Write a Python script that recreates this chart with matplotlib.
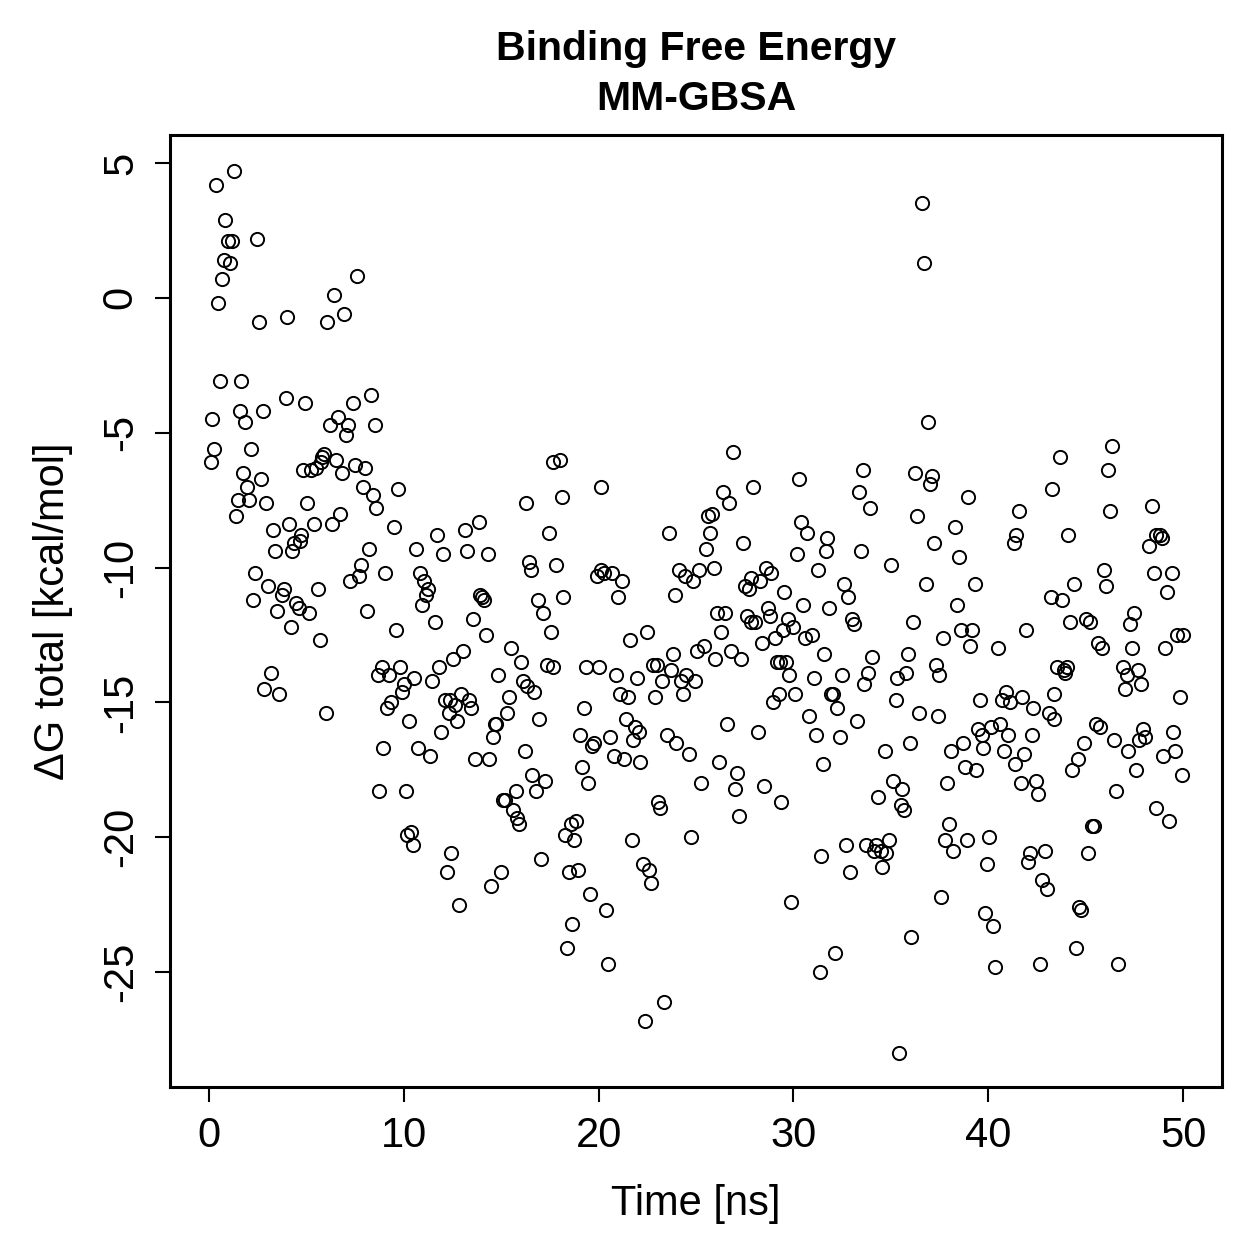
import matplotlib
matplotlib.use("Agg")
import matplotlib.pyplot as plt

plt.rcParams['font.family'] = ['Liberation Sans', 'DejaVu Sans']

# time [ns] and dG total [kcal/mol]
time_ns = [
    0.1, 0.15, 0.25, 0.35, 0.45, 0.55, 0.65, 0.75, 0.85, 1.0,
    1.1, 1.2, 1.3, 1.4, 1.5, 1.6, 1.65, 1.75, 1.85, 1.95,
    2.05, 2.15, 2.25, 2.35, 2.45, 2.55, 2.65, 2.75, 2.85, 2.95,
    3.05, 3.2, 3.3, 3.4, 3.5, 3.6, 3.75, 3.85, 3.95, 4.0,
    4.1, 4.2, 4.25, 4.35, 4.45, 4.6, 4.65, 4.75, 4.85, 4.95,
    5.05, 5.15, 5.25, 5.4, 5.5, 5.6, 5.7, 5.75, 5.8, 5.9,
    6.0, 6.05, 6.2, 6.3, 6.4, 6.5, 6.65, 6.75, 6.85, 6.95,
    7.05, 7.15, 7.25, 7.4, 7.5, 7.6, 7.7, 7.8, 7.9, 8.0,
    8.1, 8.2, 8.3, 8.4, 8.5, 8.6, 8.7, 8.75, 8.9, 8.95,
    9.05, 9.15, 9.25, 9.35, 9.5, 9.6, 9.7, 9.8, 9.9, 10.0,
    10.1, 10.15, 10.25, 10.35, 10.45, 10.55, 10.65, 10.75, 10.85, 10.95,
    11.05, 11.15, 11.25, 11.35, 11.45, 11.6, 11.7, 11.8, 11.9, 12.0,
    12.1, 12.2, 12.3, 12.35, 12.45, 12.55, 12.65, 12.75, 12.85, 12.95,
    13.05, 13.15, 13.25, 13.35, 13.45, 13.55, 13.65, 13.85, 13.9, 14.0,
    14.1, 14.2, 14.3, 14.4, 14.5, 14.6, 14.7, 14.75, 14.85, 15.0,
    15.1, 15.2, 15.3, 15.4, 15.5, 15.6, 15.75, 15.8, 15.9, 16.0,
    16.1, 16.2, 16.3, 16.35, 16.45, 16.55, 16.6, 16.7, 16.8, 16.9,
    16.95, 17.05, 17.15, 17.25, 17.35, 17.45, 17.55, 17.65, 17.65, 17.8,
    18.0, 18.1, 18.2, 18.3, 18.4, 18.5, 18.6, 18.65, 18.75, 18.85,
    18.95, 19.05, 19.15, 19.25, 19.35, 19.45, 19.55, 19.65, 19.75, 19.9,
    20.0, 20.1, 20.15, 20.3, 20.4, 20.5, 20.6, 20.7, 20.8, 20.9,
    21.0, 21.1, 21.2, 21.3, 21.4, 21.5, 21.6, 21.7, 21.75, 21.85,
    21.95, 22.05, 22.15, 22.3, 22.4, 22.5, 22.6, 22.7, 22.8, 22.9,
    23.0, 23.05, 23.15, 23.25, 23.35, 23.5, 23.6, 23.7, 23.8, 23.9,
    24.0, 24.15, 24.25, 24.35, 24.45, 24.5, 24.65, 24.75, 24.85, 24.95,
    25.05, 25.15, 25.25, 25.4, 25.5, 25.6, 25.7, 25.8, 25.9, 26.0,
    26.1, 26.2, 26.3, 26.4, 26.5, 26.6, 26.7, 26.8, 26.9, 27.0,
    27.1, 27.2, 27.3, 27.4, 27.5, 27.6, 27.7, 27.8, 27.85, 27.95,
    28.05, 28.2, 28.3, 28.4, 28.5, 28.6, 28.7, 28.8, 28.85, 28.95,
    29.05, 29.15, 29.25, 29.3, 29.35, 29.45, 29.5, 29.6, 29.7, 29.8,
    29.9, 30.0, 30.1, 30.2, 30.3, 30.4, 30.5, 30.6, 30.7, 30.8,
    30.95, 31.05, 31.15, 31.25, 31.35, 31.4, 31.5, 31.55, 31.65, 31.7,
    31.85, 31.95, 32.05, 32.15, 32.25, 32.4, 32.5, 32.6, 32.7, 32.8,
    32.9, 33.0, 33.1, 33.25, 33.35, 33.45, 33.55, 33.65, 33.75, 33.85,
    33.95, 34.05, 34.15, 34.25, 34.35, 34.5, 34.55, 34.7, 34.75, 34.9,
    35.0, 35.1, 35.25, 35.3, 35.4, 35.5, 35.6, 35.7, 35.8, 35.9,
    36.0, 36.05, 36.15, 36.25, 36.35, 36.45, 36.6, 36.7, 36.8, 36.9,
    37.0, 37.1, 37.2, 37.3, 37.4, 37.5, 37.6, 37.7, 37.8, 37.9,
    38.0, 38.1, 38.2, 38.3, 38.4, 38.5, 38.6, 38.7, 38.8, 38.9,
    38.95, 39.05, 39.15, 39.3, 39.35, 39.5, 39.6, 39.7, 39.75, 39.85,
    39.95, 40.05, 40.15, 40.25, 40.35, 40.5, 40.6, 40.7, 40.8, 40.9,
    41.0, 41.1, 41.3, 41.45, 41.35, 41.6, 41.7, 41.75, 41.85, 41.95,
    42.05, 42.15, 42.3, 42.25, 42.45, 42.55, 42.65, 42.75, 42.9, 43.0,
    43.1, 43.2, 43.3, 43.4, 43.4, 43.55, 43.7, 43.8, 43.9, 43.95,
    44.05, 44.1, 44.2, 44.3, 44.4, 44.5, 44.6, 44.65, 44.75, 44.9,
    45.0, 45.1, 45.2, 45.35, 45.45, 45.55, 45.75, 45.65, 45.85, 45.95,
    46.05, 46.15, 46.25, 46.35, 46.45, 46.55, 46.65, 46.9, 47.0, 47.1,
    47.2, 47.3, 47.4, 47.5, 47.6, 47.7, 47.75, 47.85, 47.95, 48.05,
    48.25, 48.4, 48.5, 48.6, 48.6, 48.8, 48.9, 48.95, 49.05, 49.2,
    49.3, 49.45, 49.5, 49.6, 49.7, 49.85, 49.95, 50.0,
]

dg_total = [
    -6.1, -4.5, -5.6, 4.2, -0.2, -3.1, 0.7, 1.4, 2.9, 2.1,
    1.3, 2.1, 4.7, -8.1, -7.5, -4.2, -3.1, -6.5, -4.6, -7.0,
    -7.5, -5.6, -11.2, -10.2, 2.2, -0.9, -6.7, -4.2, -14.5, -7.6,
    -10.7, -13.9, -8.6, -9.4, -11.6, -14.7, -11.0, -10.8, -3.7, -0.7,
    -8.4, -12.2, -9.4, -9.1, -11.3, -11.5, -9.0, -8.8, -6.4, -3.9,
    -7.6, -11.7, -6.4, -8.4, -6.3, -10.8, -12.7, -6.1, -5.9, -5.8,
    -15.4, -0.9, -4.7, -8.4, 0.1, -6.0, -4.4, -8.0, -6.5, -0.6,
    -5.1, -4.7, -10.5, -3.9, -6.2, 0.8, -10.3, -9.9, -7.0, -6.3,
    -11.6, -9.3, -3.6, -7.3, -4.7, -7.8, -14.0, -18.3, -13.7, -16.7,
    -10.2, -15.2, -14.0, -15.0, -8.5, -12.3, -7.1, -13.7, -14.6, -14.3,
    -18.3, -19.9, -15.7, -19.8, -20.3, -14.1, -9.3, -16.7, -10.2, -11.4,
    -10.5, -11.0, -10.8, -17.0, -14.2, -12.0, -8.8, -13.7, -16.1, -9.5,
    -14.9, -21.3, -15.4, -14.9, -20.6, -13.4, -15.1, -15.7, -22.5, -14.7,
    -13.1, -8.6, -9.4, -14.9, -15.2, -11.9, -17.1, -8.3, -11.0, -11.1,
    -11.2, -12.5, -9.5, -17.1, -21.8, -16.3, -15.8, -15.8, -14.0, -21.3,
    -18.6, -18.6, -15.4, -14.8, -13.0, -19.0, -18.3, -19.3, -19.5, -13.5,
    -14.2, -16.8, -7.6, -14.4, -9.8, -10.1, -17.7, -14.6, -18.3, -11.2,
    -15.6, -20.8, -11.7, -17.9, -13.6, -8.7, -12.4, -13.7, -6.1, -9.9,
    -6.0, -7.4, -11.1, -19.9, -24.1, -21.3, -19.5, -23.2, -20.1, -19.4,
    -21.2, -16.2, -17.4, -15.2, -13.7, -18.0, -22.1, -16.6, -16.5, -10.3,
    -13.7, -7.0, -10.1, -10.2, -22.7, -24.7, -16.3, -10.2, -17.0, -14.0,
    -11.1, -14.7, -10.5, -17.1, -15.6, -14.8, -12.7, -20.1, -16.4, -15.9,
    -14.1, -16.1, -17.2, -21.0, -26.8, -12.4, -21.2, -21.7, -13.6, -14.8,
    -13.6, -18.7, -18.9, -14.2, -26.1, -16.2, -8.7, -13.8, -13.2, -11.0,
    -16.5, -10.1, -14.2, -14.7, -10.3, -14.0, -16.9, -20.0, -10.5, -14.2,
    -13.1, -10.1, -18.0, -12.9, -9.3, -8.1, -8.7, -8.0, -10.0, -13.4,
    -11.7, -17.2, -12.4, -7.2, -11.7, -15.8, -7.6, -13.1, -5.7, -18.2,
    -17.6, -19.2, -13.4, -9.1, -10.7, -11.8, -10.8, -12.0, -10.4, -7.0,
    -12.0, -16.1, -10.5, -12.8, -18.1, -10.0, -11.5, -11.8, -10.2, -15.0,
    -12.6, -13.5, -14.7, -13.5, -18.7, -12.3, -10.9, -13.5, -11.9, -14.0,
    -22.4, -12.2, -14.7, -9.5, -6.7, -8.3, -11.4, -12.6, -8.7, -15.5,
    -12.5, -14.1, -16.2, -10.1, -25.0, -20.7, -17.3, -13.2, -9.4, -8.9,
    -11.5, -14.7, -14.7, -24.3, -15.2, -16.3, -14.0, -10.6, -20.3, -11.1,
    -21.3, -11.9, -12.1, -15.7, -7.2, -9.4, -6.4, -14.3, -20.3, -13.9,
    -7.8, -13.3, -20.5, -20.3, -18.5, -20.5, -21.1, -16.8, -20.6, -20.1,
    -9.9, -17.9, -14.9, -14.1, -28.0, -18.8, -18.2, -19.0, -13.9, -13.2,
    -16.5, -23.7, -12.0, -6.5, -8.1, -15.4, 3.5, 1.3, -10.6, -4.6,
    -6.9, -6.6, -9.1, -13.6, -15.5, -14.0, -22.2, -12.6, -20.1, -18.0,
    -19.5, -16.8, -20.5, -8.5, -11.4, -9.6, -12.3, -16.5, -17.4, -20.1,
    -7.4, -12.9, -12.3, -10.6, -17.5, -16.0, -14.9, -16.2, -16.7, -22.8,
    -21.0, -20.0, -15.9, -23.3, -24.8, -13.0, -15.8, -14.9, -16.8, -14.6,
    -16.2, -15.0, -9.1, -8.8, -17.3, -7.9, -18.0, -14.8, -16.9, -12.3,
    -20.9, -20.6, -15.2, -16.2, -17.9, -18.4, -24.7, -21.6, -20.5, -21.9,
    -15.4, -11.1, -7.1, -15.6, -14.7, -13.7, -5.9, -11.2, -13.8, -13.9,
    -13.7, -8.8, -12.0, -17.5, -10.6, -24.1, -17.1, -22.6, -22.7, -16.5,
    -11.9, -20.6, -12.0, -19.6, -19.6, -15.8, -15.9, -12.8, -13.0, -10.1,
    -10.7, -6.4, -7.9, -5.5, -16.4, -18.3, -24.7, -13.7, -14.5, -14.0,
    -16.8, -12.1, -13.0, -11.7, -17.5, -13.8, -16.4, -14.3, -16.0, -16.3,
    -9.2, -7.7, -10.2, -18.9, -8.8, -8.8, -8.9, -17.0, -13.0, -10.9,
    -19.4, -10.2, -16.1, -16.8, -12.5, -14.8, -17.7, -12.5,
]

x_ticks = [0, 10, 20, 30, 40, 50]
y_ticks = [5, 0, -5, -10, -15, -20, -25]

fig = plt.figure(figsize=(12.59, 12.59), dpi=100, facecolor="white")
ax = fig.add_axes([0.135, 0.1366, 0.8356, 0.7562])

ax.plot(time_ns, dg_total, linestyle="none", marker="o", markersize=9.5,
        markerfacecolor="none", markeredgecolor="black", markeredgewidth=1.4)

# R style 4% padding
ax.set_xlim(-2, 52)
ax.set_ylim(-29.26, 6.04)

ax.set_xticks(x_ticks)
ax.set_yticks(y_ticks)
ax.set_yticklabels([str(v) for v in y_ticks], rotation=90, va="center")
ax.tick_params(axis="both", direction="out", length=11, width=1.5,
               labelsize=30, pad=10)
for side in ["top", "bottom", "left", "right"]:
    ax.spines[side].set_linewidth(2.2)

ax.set_xlabel("Time [ns]", fontsize=30, labelpad=20)
ax.set_ylabel("ΔG total [kcal/mol]", fontsize=30, labelpad=20)
ax.set_title("Binding Free Energy\nMM-GBSA", fontsize=29.5, fontweight="bold",
             linespacing=1.4, pad=18)

fig.savefig("out.png", dpi=100)
